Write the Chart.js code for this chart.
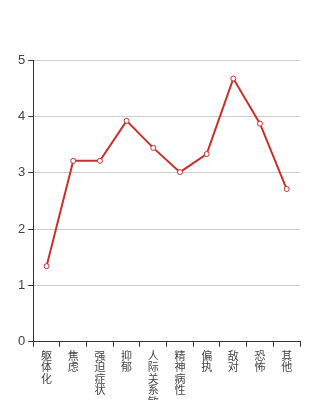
<!DOCTYPE html>
<html>
<head>
<meta charset="utf-8">
<script src="https://cdn.jsdelivr.net/npm/chart.js@4/dist/chart.umd.min.js"></script>
<style>
  html, body { margin: 0; padding: 0; background: #fff; overflow: hidden; }
  .wrap { position: relative; width: 334px; height: 422px; }
</style>
</head>
<body>
<div class="wrap"><canvas id="chart"></canvas></div>
<script>
// SCL-90 factor scores
const categories = ['躯体化', '焦虑', '强迫症状', '抑郁', '人际关系敏感', '精神病性', '偏执', '敌对', '恐怖', '其他'];
const scores = [1.34, 3.21, 3.21, 3.92, 3.44, 3.01, 3.33, 4.67, 3.87, 2.71];
const yTicks = [0, 1, 2, 3, 4, 5];

// stack each character on its own line
const stacked = categories.map(c => c.split(''));

const ctx = document.getElementById('chart').getContext('2d');
new Chart(ctx, {
    type: 'line',
    data: {
        labels: stacked,
        datasets: [{
            data: scores,
            borderColor: '#c9302c',
            borderWidth: 2,
            pointRadius: 2.5,
            pointBorderWidth: 1,
            pointBackgroundColor: '#fff',
            pointBorderColor: '#c9302c',
            tension: 0
        }]
    },
    options: {
        responsive: true,
        maintainAspectRatio: false,
        animation: false,
        layout: { padding: { top: 60, right: 34, left: 15, bottom: 0 } },
        plugins: { legend: { display: false }, tooltip: { enabled: false } },
        scales: {
            x: {
                offset: true,
                grid: { offset: true, drawOnChartArea: false, tickLength: 5, tickColor: '#333' },
                border: { color: '#333', width: 1 },
                ticks: {
                    autoSkip: false, maxRotation: 0, minRotation: 0, padding: 3,
                    color: '#444',
                    font: { size: 11, lineHeight: 1.05, family: '"Noto Sans CJK SC", sans-serif' }
                }
            },
            y: {
                min: 0, max: 5,
                afterBuildTicks: axis => { axis.ticks = yTicks.map(v => ({ value: v })); },
                grid: { color: '#ccc', tickLength: 5, tickColor: '#333' },
                border: { color: '#333', width: 1 },
                ticks: { padding: 3, color: '#444', font: { size: 13, family: '"Liberation Sans", Arial, sans-serif' } }
            }
        }
    }
});
</script>
</body>
</html>
